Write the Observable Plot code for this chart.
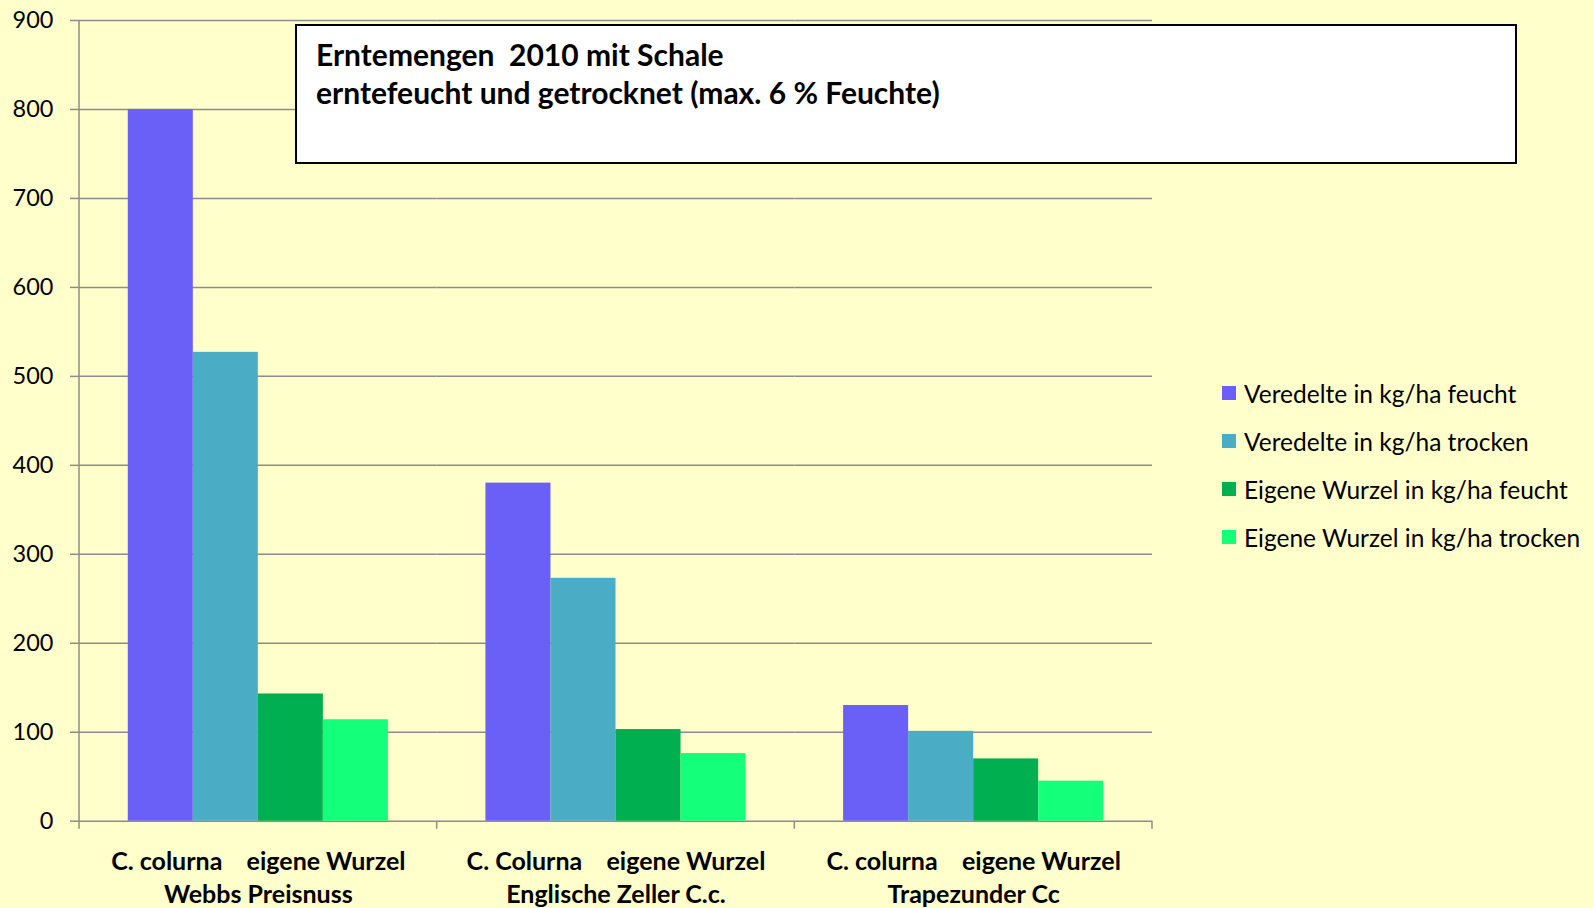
<!DOCTYPE html>
<html>
<head>
<meta charset="utf-8">
<script src="https://cdn.jsdelivr.net/npm/d3@7"></script>
<script src="https://cdn.jsdelivr.net/npm/@observablehq/plot@0.6"></script>
<style>
  html, body { margin: 0; padding: 0; background: #FFFFCC; }
  #wrap { position: relative; width: 1594px; height: 908px; overflow: hidden; font-family: Lato, "Open Sans", sans-serif; }
  #wrap svg { display: block; }
  #titlebox {
    position: absolute; left: 295px; top: 24px; width: 1222px; height: 140px;
    box-sizing: border-box; border: 2.5px solid #000; background: #fff;
    padding: 10px 0 0 19px; font-weight: bold; font-size: 30px; line-height: 37.5px; color: #000; white-space: nowrap;
  }
  #legend { position: absolute; left: 1222px; top: 369px; font-size: 24.5px; color: #000; }
  .lg-row { display: flex; align-items: center; height: 48px; white-space: nowrap; }
  .lg-sw { width: 14px; height: 14px; margin-right: 8px; flex: none; }
</style>
</head>
<body>
<div id="wrap"></div>
<script>
// ---- data ----
const groups = ["Webbs Preisnuss", "Englische Zeller C.c.", "Trapezunder Cc"];
const groupLine1 = ["C. colurna    eigene Wurzel", "C. Colurna    eigene Wurzel", "C. colurna    eigene Wurzel"];
const series = [
  "Veredelte in kg/ha feucht",
  "Veredelte in kg/ha trocken",
  "Eigene Wurzel in kg/ha feucht",
  "Eigene Wurzel in kg/ha trocken"
];
const veredelteFeucht = [800, 380, 130];
const veredelteTrocken = [527, 273, 101];
const eigeneFeucht = [143, 103, 70];
const eigeneTrocken = [114, 76, 45];
const yTicks = [0, 100, 200, 300, 400, 500, 600, 700, 800, 900];
const colors = ["#6A5FF7", "#4BACC6", "#00B050", "#14FF7A"];
const titleLines = ["Erntemengen\u00a0 2010 mit Schale", "erntefeucht und getrocknet (max. 6 % Feuchte)"];

const seriesValues = [veredelteFeucht, veredelteTrocken, eigeneFeucht, eigeneTrocken];
const data = [];
groups.forEach((g, gi) => series.forEach((s, si) => data.push({group: g, series: s, value: seriesValues[si][gi]})));

const gridColor = "#8c8c8c";

const plot = Plot.plot({
  width: 1594,
  height: 908,
  marginLeft: 79,
  marginRight: 442,
  marginTop: 20,
  marginBottom: 87.3,
  style: {background: "transparent", fontFamily: "Lato, 'Open Sans', sans-serif", fontSize: "23px", color: "#000", overflow: "visible"},
  fx: {domain: groups, padding: 0, round: false, label: null, axis: null},
  x: {domain: series, paddingInner: 0, paddingOuter: 0.75, round: false, axis: null},
  y: {domain: [0, 900], axis: null},
  color: {domain: series, range: colors},
  marks: [
    Plot.ruleY(yTicks, {y: d => d, stroke: gridColor, strokeWidth: 1.5}),
    Plot.barY(data, {fx: "group", x: "series", y: "value", fill: "series"}),
    Plot.axisY({ticks: yTicks, tickSize: 9, tickPadding: 17, stroke: gridColor, strokeWidth: 1.5, strokeOpacity: 1, label: null, fontSize: 23.5, fill: "#000"}),
    Plot.axisFx({
      anchor: "bottom", tickSize: 0, tickPadding: 26, label: null,
      fontSize: 25, fontWeight: "bold", fill: "#000", lineHeight: 1.3,
      tickFormat: g => groupLine1[groups.indexOf(g)].replace(/ /g, "\u00a0") + "\n" + g
    })
  ]
});

// axis line and category boundary ticks, positioned via the plot's own scales
const fx = plot.scale("fx");
const y = plot.scale("y");
const svg = d3.select(plot);
const g = svg.append("g").attr("stroke", gridColor).attr("stroke-width", 1.5);
const x0 = fx.apply(groups[0]);
const y0 = y.apply(0);
g.append("line").attr("x1", x0).attr("x2", x0).attr("y1", y.apply(900)).attr("y2", y0 + 8);
groups.forEach((gr, i) => {
  const xs = fx.apply(gr) + fx.bandwidth;
  g.append("line").attr("x1", xs).attr("x2", xs).attr("y1", y0).attr("y2", y0 + 8);
});

const wrap = document.getElementById("wrap");
wrap.appendChild(plot);

const tb = document.createElement("div");
tb.id = "titlebox";
tb.innerHTML = titleLines.map(t => `<div>${t}</div>`).join("");
wrap.appendChild(tb);

const lg = document.createElement("div");
lg.id = "legend";
series.forEach((s, i) => {
  const row = document.createElement("div");
  row.className = "lg-row";
  row.innerHTML = `<span class="lg-sw" style="background:${colors[i]}"></span><span>${s}</span>`;
  lg.appendChild(row);
});
wrap.appendChild(lg);
</script>
</body>
</html>
